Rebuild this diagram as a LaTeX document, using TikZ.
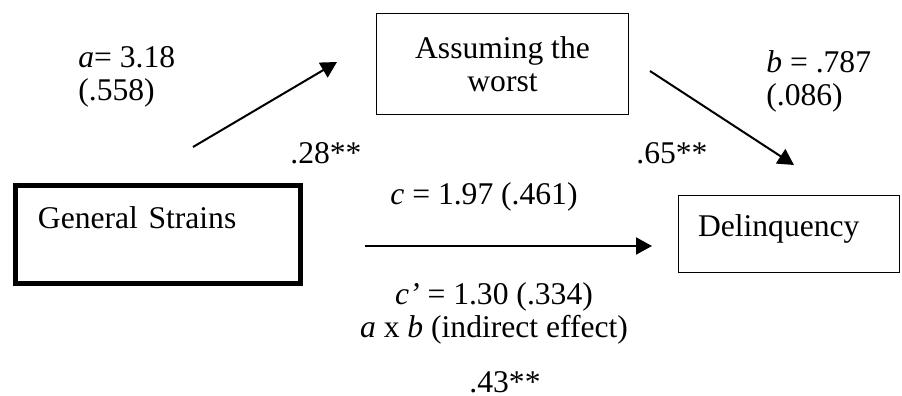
\documentclass[tikz,border=0pt]{standalone}
\usepackage{fontspec}
\setmainfont{Liberation Serif}
\usetikzlibrary{arrows.meta}
\begin{document}
\begin{tikzpicture}[x=0.5pt, y=-0.5pt,
  font=\fontsize{15.8pt}{16.5pt}\selectfont,
  >={Triangle[length=8pt,width=8.5pt]},
  var/.style={draw, line width=#1, inner ysep=0pt, align=left},
  coef/.style={inner sep=0pt, anchor=base west, align=left},
  path/.style={->, line width=1pt}
]
  \useasboundingbox (0,0) rectangle (902,396);
  % variables
  \node[var=2.5pt, minimum width=142.5pt, minimum height=49pt,
        inner xsep=11.25pt, text width=120pt,
        text height=11pt, text depth=17.5pt] (gs) at (158,234.5) {General Strains};
  \node[var=0.6pt, minimum width=126pt, minimum height=50.5pt,
        align=center] (aw) at (502.5,64) {Assuming the\\worst};
  \node[var=0.6pt, minimum width=110.5pt, minimum height=38.5pt,
        inner xsep=9.75pt, text width=91pt,
        text height=11pt, text depth=9pt] (del) at (789,234) {Delinquency};
  % paths
  \coordinate (a0) at (193,147);
  \coordinate (a1) at (337,62);
  \coordinate (b0) at (650,71);
  \coordinate (b1) at (794,165);
  \coordinate (c0) at (365,246);
  \coordinate (c1) at (652,246);
  \draw[path] (a0) -- (a1);
  \draw[path] (b0) -- (b1);
  \draw[path] (c0) -- (c1);
  % coefficients (base = last line)
  \node[coef] (alab) at (78,100) {\textit{a}= 3.18\\(.558)};
  \node[coef] (blab) at (766,105) {\textit{b} = .787\\(.086)};
  \node[coef] (abeta) at (290,163) {.28**};
  \node[coef] (bbeta) at (636,163) {.65**};
  \node[coef] (clab) at (390,205) {\textit{c} = 1.97 (.461)};
  \node[coef, anchor=base, align=center] (cplab) at (494,337)
       {\textit{c’} = 1.30 (.334)\\\textit{a} x \textit{b} (indirect effect)};
  \node[coef, anchor=base] (cbeta) at (505,392) {.43**};
\end{tikzpicture}
\end{document}
